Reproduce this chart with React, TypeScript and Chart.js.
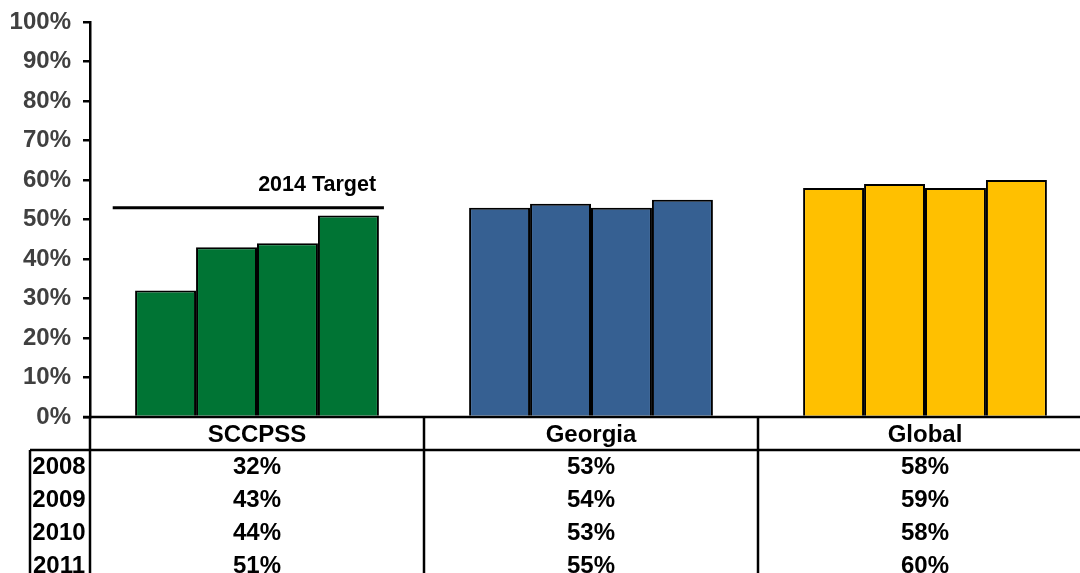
import React, { useEffect, useRef } from "react";
import { Chart, registerables } from "chart.js";

Chart.register(...registerables);

const categories = ["SCCPSS", "Georgia", "Global"];
const years = ["2008", "2009", "2010", "2011"];
const values2008 = [0.32, 0.53, 0.58];
const values2009 = [0.43, 0.54, 0.59];
const values2010 = [0.44, 0.53, 0.58];
const values2011 = [0.51, 0.55, 0.6];
const seriesValues = [values2008, values2009, values2010, values2011];
const groupColors = ["#007434", "#366092", "#FFC000"];
const targetValue = 0.53;
const targetLabel = "2014 Target";

const FONT = "'Liberation Sans', Arial, sans-serif";

const tablePlugin = {
  id: "tablePlugin",
  afterDraw(chart: any) {
    const ctx = chart.ctx;
    const area = chart.chartArea;
    const xs = chart.scales.x;
    const ys = chart.scales.y;
    const n = categories.length;
    const w = (area.right - area.left) / n;
    const base = ys.getPixelForValue(0);
    const H = chart.height;
    ctx.save();
    ctx.strokeStyle = "#000";
    ctx.lineWidth = 2.5;
    // baseline
    ctx.beginPath();
    ctx.moveTo(area.left - 7, base);
    ctx.lineTo(chart.width, base);
    ctx.stroke();
    // vertical dividers
    for (let k = 0; k <= n; k++) {
      const x = area.left + k * w;
      ctx.beginPath();
      ctx.moveTo(x, base - 1);
      ctx.lineTo(x, H);
      ctx.stroke();
    }
    // header bottom line
    const headerBottom = base + 33;
    ctx.beginPath();
    ctx.moveTo(30, headerBottom);
    ctx.lineTo(chart.width, headerBottom);
    ctx.stroke();
    // left border of row label box
    ctx.beginPath();
    ctx.moveTo(30, headerBottom);
    ctx.lineTo(30, H);
    ctx.stroke();

    ctx.fillStyle = "#000";
    ctx.textAlign = "center";
    ctx.textBaseline = "middle";
    ctx.font = `bold 24px ${FONT}`;
    categories.forEach((c, i) => {
      ctx.fillText(c, xs.getPixelForValue(i), base + 18);
    });
    years.forEach((yr, r) => {
      const y = headerBottom + 17 + r * 33;
      ctx.fillText(yr, 59, y);
      seriesValues[r].forEach((v, i) => {
        ctx.fillText(Math.round(v * 100) + "%", xs.getPixelForValue(i), y);
      });
    });

    // target line
    const cx = xs.getPixelForValue(0);
    const ty = ys.getPixelForValue(targetValue);
    ctx.lineWidth = 3;
    ctx.beginPath();
    ctx.moveTo(cx - 0.432 * w, ty);
    ctx.lineTo(cx + 0.38 * w, ty);
    ctx.stroke();
    ctx.font = `bold 21.5px ${FONT}`;
    ctx.textAlign = "center";
    ctx.fillText(targetLabel, cx + 0.18 * w, ty - 23);
    ctx.restore();
  },
};

export default function App() {
  const ref = useRef<HTMLCanvasElement | null>(null);
  useEffect(() => {
    document.body.style.margin = "0";
    document.body.style.overflow = "hidden";
    const canvas = ref.current!;
    const chart = new Chart(canvas, {
      type: "bar",
      data: {
        labels: categories,
        datasets: seriesValues.map((vals, i) => ({
          label: years[i],
          data: vals,
          backgroundColor: groupColors,
          borderColor: "#000",
          borderWidth: 2,
          categoryPercentage: 0.73,
          barPercentage: 1.0,
        })),
      },
      options: {
        responsive: false,
        animation: false,
        layout: { padding: { top: 22, bottom: 156, left: 0, right: 8 } },
        plugins: { legend: { display: false }, tooltip: { enabled: false } },
        scales: {
          x: { display: false },
          y: {
            min: 0,
            max: 1,
            afterFit: (s: any) => {
              s.width = 90;
              s.paddingTop = 0;
              s.paddingBottom = 0;
            },
            ticks: {
              stepSize: 0.1,
              padding: 12,
              color: "#404040",
              font: { family: FONT, size: 24, weight: "bold" },
              callback: (v: any) => Math.round(Number(v) * 100) + "%",
            },
            grid: {
              drawOnChartArea: false,
              drawTicks: true,
              tickLength: 7,
              color: "#000",
              lineWidth: 2.5,
            },
            border: { display: true, color: "#000", width: 2.5 },
          },
        },
      },
      plugins: [tablePlugin],
    });
    return () => chart.destroy();
  }, []);
  return (
    <div style={{ width: 1080, height: 573, overflow: "hidden", position: "relative" }}>
      <canvas ref={ref} width={1100} height={573} style={{ display: "block" }} />
    </div>
  );
}
